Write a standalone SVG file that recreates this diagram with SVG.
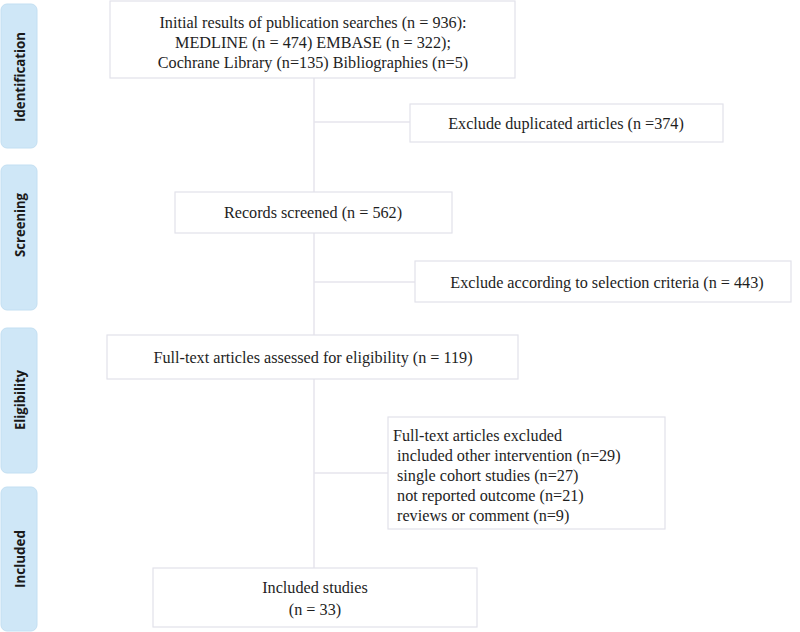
<svg xmlns="http://www.w3.org/2000/svg" width="800" height="632" viewBox="0 0 800 632">
<style>
.side{fill:#cfe7f7;stroke:#c3dff2;stroke-width:1}
.stxt{font-family:"Open Sans","DejaVu Sans",sans-serif;font-weight:bold;font-size:14.5px;fill:#1a1a1a;text-anchor:middle}
.box{fill:#ffffff;stroke:#e2e2ea;stroke-width:1.2}
.t{font-family:"Liberation Serif","Times New Roman",serif;font-size:16.2px;fill:#1e1e1e}
.c{text-anchor:middle}
.ln{stroke:#e6e4ec;stroke-width:1.5;fill:none}
</style>
<rect width="800" height="632" fill="#ffffff"/>
<g id="phases">
<g id="phase-identification"><rect class="side" x="1" y="4" width="36" height="144" rx="6"/><text class="stxt" transform="translate(25,77) rotate(-90)" textLength="90" lengthAdjust="spacingAndGlyphs">Identification</text></g>
<g id="phase-screening"><rect class="side" x="1" y="165" width="36" height="145" rx="6"/><text class="stxt" transform="translate(25,225) rotate(-90)" textLength="64" lengthAdjust="spacingAndGlyphs">Screening</text></g>
<g id="phase-eligibility"><rect class="side" x="1" y="328" width="36" height="145" rx="6"/><text class="stxt" transform="translate(25,400) rotate(-90)" textLength="60" lengthAdjust="spacingAndGlyphs">Eligibility</text></g>
<g id="phase-included"><rect class="side" x="1" y="487" width="36" height="144" rx="6"/><text class="stxt" transform="translate(25,559) rotate(-90)" textLength="58" lengthAdjust="spacingAndGlyphs">Included</text></g>
</g>
<g id="connectors">
<line class="ln" x1="314" y1="78" x2="314" y2="568"/>
<line class="ln" x1="314" y1="122" x2="410" y2="122"/>
<line class="ln" x1="314" y1="282" x2="415" y2="282"/>
<line class="ln" x1="314" y1="473" x2="388" y2="473"/>
</g>
<g id="n1"><rect class="box" x="110" y="1" width="405" height="77"/>
<text class="t c" x="313" y="28">Initial results of publication searches (n = 936):</text>
<text class="t c" x="313" y="48">MEDLINE (n = 474) EMBASE (n = 322);</text>
<text class="t c" x="313" y="68">Cochrane Library (n=135) Bibliographies (n=5)</text></g>
<g id="n2"><rect class="box" x="410" y="104" width="313" height="38"/>
<text class="t c" x="566" y="129">Exclude duplicated articles (n =374)</text></g>
<g id="n3"><rect class="box" x="175" y="192" width="277" height="41"/>
<text class="t c" x="313" y="218">Records screened (n = 562)</text></g>
<g id="n4"><rect class="box" x="415" y="261" width="376" height="41"/>
<text class="t c" x="607" y="288">Exclude according to selection criteria (n = 443)</text></g>
<g id="n5"><rect class="box" x="107" y="335" width="411" height="44"/>
<text class="t c" x="313" y="363">Full-text articles assessed for eligibility (n = 119)</text></g>
<g id="n6"><rect class="box" x="388" y="417" width="277" height="112"/>
<text class="t" x="393" y="441">Full-text articles excluded</text>
<text class="t" x="393" y="461" xml:space="preserve"> included other intervention (n=29)</text>
<text class="t" x="393" y="481" xml:space="preserve"> single cohort studies (n=27)</text>
<text class="t" x="393" y="501" xml:space="preserve"> not reported outcome (n=21)</text>
<text class="t" x="393" y="521" xml:space="preserve"> reviews or comment (n=9)</text></g>
<g id="n7"><rect class="box" x="153" y="568" width="324" height="59"/>
<text class="t c" x="315" y="593">Included studies</text>
<text class="t c" x="315" y="615">(n = 33)</text></g>
</svg>
